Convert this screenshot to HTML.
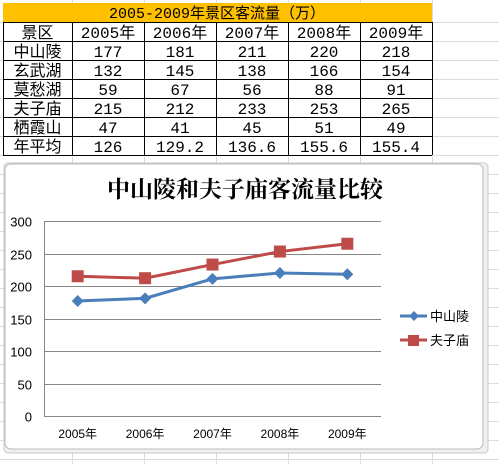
<!DOCTYPE html>
<html><head><meta charset="utf-8"><style>
body{margin:0;width:499px;height:464px;overflow:hidden;background:#fff;font-family:"Liberation Sans","Noto Sans CJK SC",sans-serif;position:relative}
.t{position:absolute;left:0;top:0;border-collapse:collapse;font-family:"Liberation Mono","Noto Sans CJK SC",monospace;font-size:16px}
</style></head><body>
<svg width="499" height="464" style="position:absolute;left:0;top:0">
<g id="bggrid" stroke="#dadcdd" stroke-width="1"></g>
<rect x="3" y="3" width="429" height="19" fill="#ffc000"/>
<text x="217" y="18" text-anchor="middle" font-size="15" font-family="Liberation Mono, Noto Sans CJK SC, monospace">2005-2009年景区客流量（万）</text>
<g id="tbl" font-size="16" font-family="Liberation Mono, Noto Sans CJK SC, monospace" text-anchor="middle"></g>
<rect x="4" y="163" width="484" height="290" rx="4" fill="#f0f0f0" stroke="#c8c8c8"/>
<rect x="5" y="164" width="478" height="285" rx="6" fill="#fff" stroke="#bbb"/>
<text x="245" y="197" text-anchor="middle" font-size="23" font-weight="bold" font-family="Noto Serif CJK SC, serif">中山陵和夫子庙客流量比较</text>
<g id="chart"></g>
</svg>
<script>
const categories=["2005年","2006年","2007年","2008年","2009年"];
const sZsl=[177,181,211,220,218];
const sFzm=[215,212,233,253,265];
const rowNames=["中山陵","玄武湖","莫愁湖","夫子庙","栖霞山","年平均"];
const tableVals=[["177","181","211","220","218"],["132","145","138","166","154"],["59","67","56","88","91"],["215","212","233","253","265"],["47","41","45","51","49"],["126","129.2","136.6","155.6","155.4"]];
const yTicks=[0,50,100,150,200,250,300];
const NS="http://www.w3.org/2000/svg";
function mk(t,a,p){const e=document.createElementNS(NS,t);for(const k in a)e.setAttribute(k,a[k]);p.appendChild(e);return e;}
const bg=document.getElementById('bggrid');
[72,144,216,288,360,432].forEach(x=>mk('line',{x1:x+.5,y1:0,x2:x+.5,y2:464},bg));
for(let y=22;y<464;y+=19)mk('line',{x1:0,y1:y+.5,x2:499,y2:y+.5},bg);
const tb=document.getElementById('tbl');
const cols=[3,72,144,216,288,360,432];
const rows=[22,41,60,79,98,117,136,155];
rows.forEach(y=>{const l=mk('line',{x1:3,y1:y+.5,x2:432,y2:y+.5,stroke:'#000'},tb);});
cols.forEach(x=>{const l=mk('line',{x1:x+.5,y1:22,x2:x+.5,y2:155,stroke:'#000'},tb);});
function cell(txt,c,r){const e=mk('text',{x:(cols[c]+cols[c+1])/2,y:rows[r]+16},tb);e.textContent=txt;}
cell("景区",0,0);categories.forEach((c,i)=>cell(c,i+1,0));
rowNames.forEach((n,r)=>{cell(n,0,r+1);tableVals[r].forEach((v,i)=>cell(v,i+1,r+1));});
const ch=document.getElementById('chart');
const X0=44,X1=381,Y0=416,Y1=221;
const band=(X1-X0)/categories.length;
const xs=i=>X0+band*(i+.5);
const ys=v=>Y0-(v/300)*(Y0-Y1);
yTicks.forEach(t=>{const y=Math.round(ys(t))+.5;
 const l=mk('line',{x1:X0,y1:y,x2:X1,y2:y,stroke:'#868686'},ch);
 const tx=mk('text',{x:32,y:y+5,'text-anchor':'end','font-size':13,fill:'#000'},ch);tx.textContent=t;});
const ax=mk('line',{x1:X0+.5,y1:Y1,x2:X0+.5,y2:Y0,stroke:'#868686'},ch);
categories.forEach((c,i)=>{const tx=mk('text',{x:xs(i),y:438,'text-anchor':'middle','font-size':12},ch);tx.textContent=c;});
function series(vals,color,shape,name){
 const p=mk('polyline',{points:vals.map((v,i)=>xs(i)+','+ys(v)).join(' '),fill:'none',stroke:color,'stroke-width':3},ch);
 
 vals.forEach((v,i)=>{const x=xs(i),y=ys(v);let m;
  if(shape==='d')m=mk('polygon',{points:`${x},${y-6} ${x+6},${y} ${x},${y+6} ${x-6},${y}`,fill:color},ch);
  else m=mk('rect',{x:x-6,y:y-6,width:12,height:12,fill:color},ch);
  });
}
series(sZsl,'#4a7ebb','d','zhongshanling');
series(sFzm,'#be4b48','s','fuzimiao');
function legend(y,color,shape,label,name){
 const g=mk('g',{},ch);
 mk('line',{x1:400,y1:y,x2:427,y2:y,stroke:color,'stroke-width':3},g);
 if(shape==='d')mk('polygon',{points:`414,${y-5} 419,${y} 414,${y+5} 409,${y}`,fill:color},g);
 else mk('rect',{x:408,y:y-5,width:11,height:11,fill:color},g);
 const t=mk('text',{x:430,y:y+5,'font-size':13},g);t.textContent=label;
}
legend(316,'#4a7ebb','d','中山陵','zhongshanling');
legend(340,'#be4b48','s','夫子庙','fuzimiao');
</script>
</body></html>
